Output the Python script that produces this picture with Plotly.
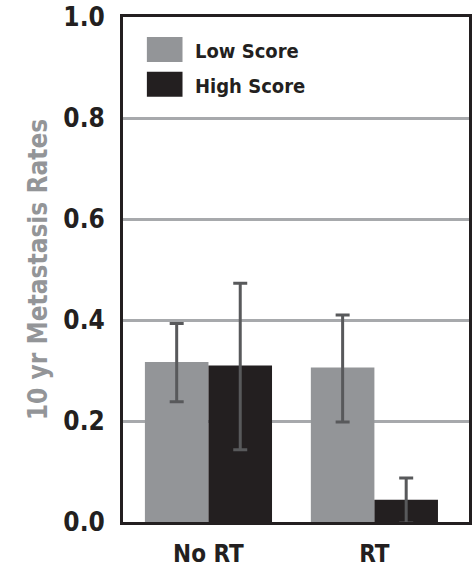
import plotly.graph_objects as go

# Data
categories = ["No RT", "RT"]
low_score = [0.317, 0.306]
low_err_plus = [0.076, 0.104]
low_err_minus = [0.079, 0.108]
high_score = [0.310, 0.044]
high_err_plus = [0.163, 0.043]
high_err_minus = [0.167, 0.046]
series_names = ["Low Score", "High Score"]
tick_vals = [0.0, 0.2, 0.4, 0.6, 0.8, 1.0]

LOW_COLOR = "#939598"
HIGH_COLOR = "#231f20"
ERR_COLOR = "#58595b"
FONT = "DejaVu Sans Condensed, Roboto, Arial"

fig = go.Figure()
for name, vals, ep, em, col in [
    (series_names[0], low_score, low_err_plus, low_err_minus, LOW_COLOR),
    (series_names[1], high_score, high_err_plus, high_err_minus, HIGH_COLOR),
]:
    fig.add_trace(go.Bar(
        x=categories, y=vals, name=name,
        marker=dict(color=col, line=dict(width=0)),
        error_y=dict(type="data", symmetric=False, array=ep, arrayminus=em,
                     color=ERR_COLOR, thickness=3, width=7),
        showlegend=False,
    ))

# Legend drawn as swatches + labels inside the plot area
legend_rows = [(series_names[0], LOW_COLOR, 0.9606, 0.911),
               (series_names[1], HIGH_COLOR, 0.8915, 0.842)]
shapes = []
annotations = []
for name, col, y1, y0 in legend_rows:
    shapes.append(dict(type="rect", xref="paper", yref="paper",
                       x0=0.069, x1=0.172, y0=y0, y1=y1,
                       fillcolor=col, line=dict(width=0)))
    annotations.append(dict(xref="paper", yref="paper", x=0.203, y=(y0 + y1) / 2 - 0.003,
                            text=f"<b>{name}</b>", showarrow=False,
                            xanchor="left", yanchor="middle",
                            font=dict(family=FONT, size=20, color="#231f20")))

fig.update_layout(
    width=472, height=568,
    margin=dict(l=123, r=0, t=17, b=44),
    paper_bgcolor="white", plot_bgcolor="white",
    barmode="group", bargap=0.234, bargroupgap=0,
    shapes=shapes, annotations=annotations,
    font=dict(family=FONT),
)
fig.update_xaxes(
    range=[-0.515, 1.57],
    showline=True, linecolor="#231f20", linewidth=3, mirror=True,
    showgrid=False, ticks="",
    tickfont=dict(family=FONT, size=24, color="#231f20"),
    ticklabelstandoff=8,
    tickvals=categories, ticktext=[f"<b>{c}</b>" for c in categories],
)
fig.update_yaxes(
    range=[0, 1.0],
    tickvals=tick_vals, ticktext=[f"<b>{v:.1f}</b>" for v in tick_vals],
    showline=True, linecolor="#231f20", linewidth=3, mirror=True,
    showgrid=True, gridcolor="#a7a9ac", gridwidth=2.5,
    zeroline=False, ticks="",
    tickfont=dict(family=FONT, size=26, color="#231f20"),
    ticklabelstandoff=10,
    title=dict(text="<b>10 yr Metastasis Rates</b>", standoff=9,
               font=dict(family=FONT, size=26, color="#939598")),
)

fig.write_html("out.html")
